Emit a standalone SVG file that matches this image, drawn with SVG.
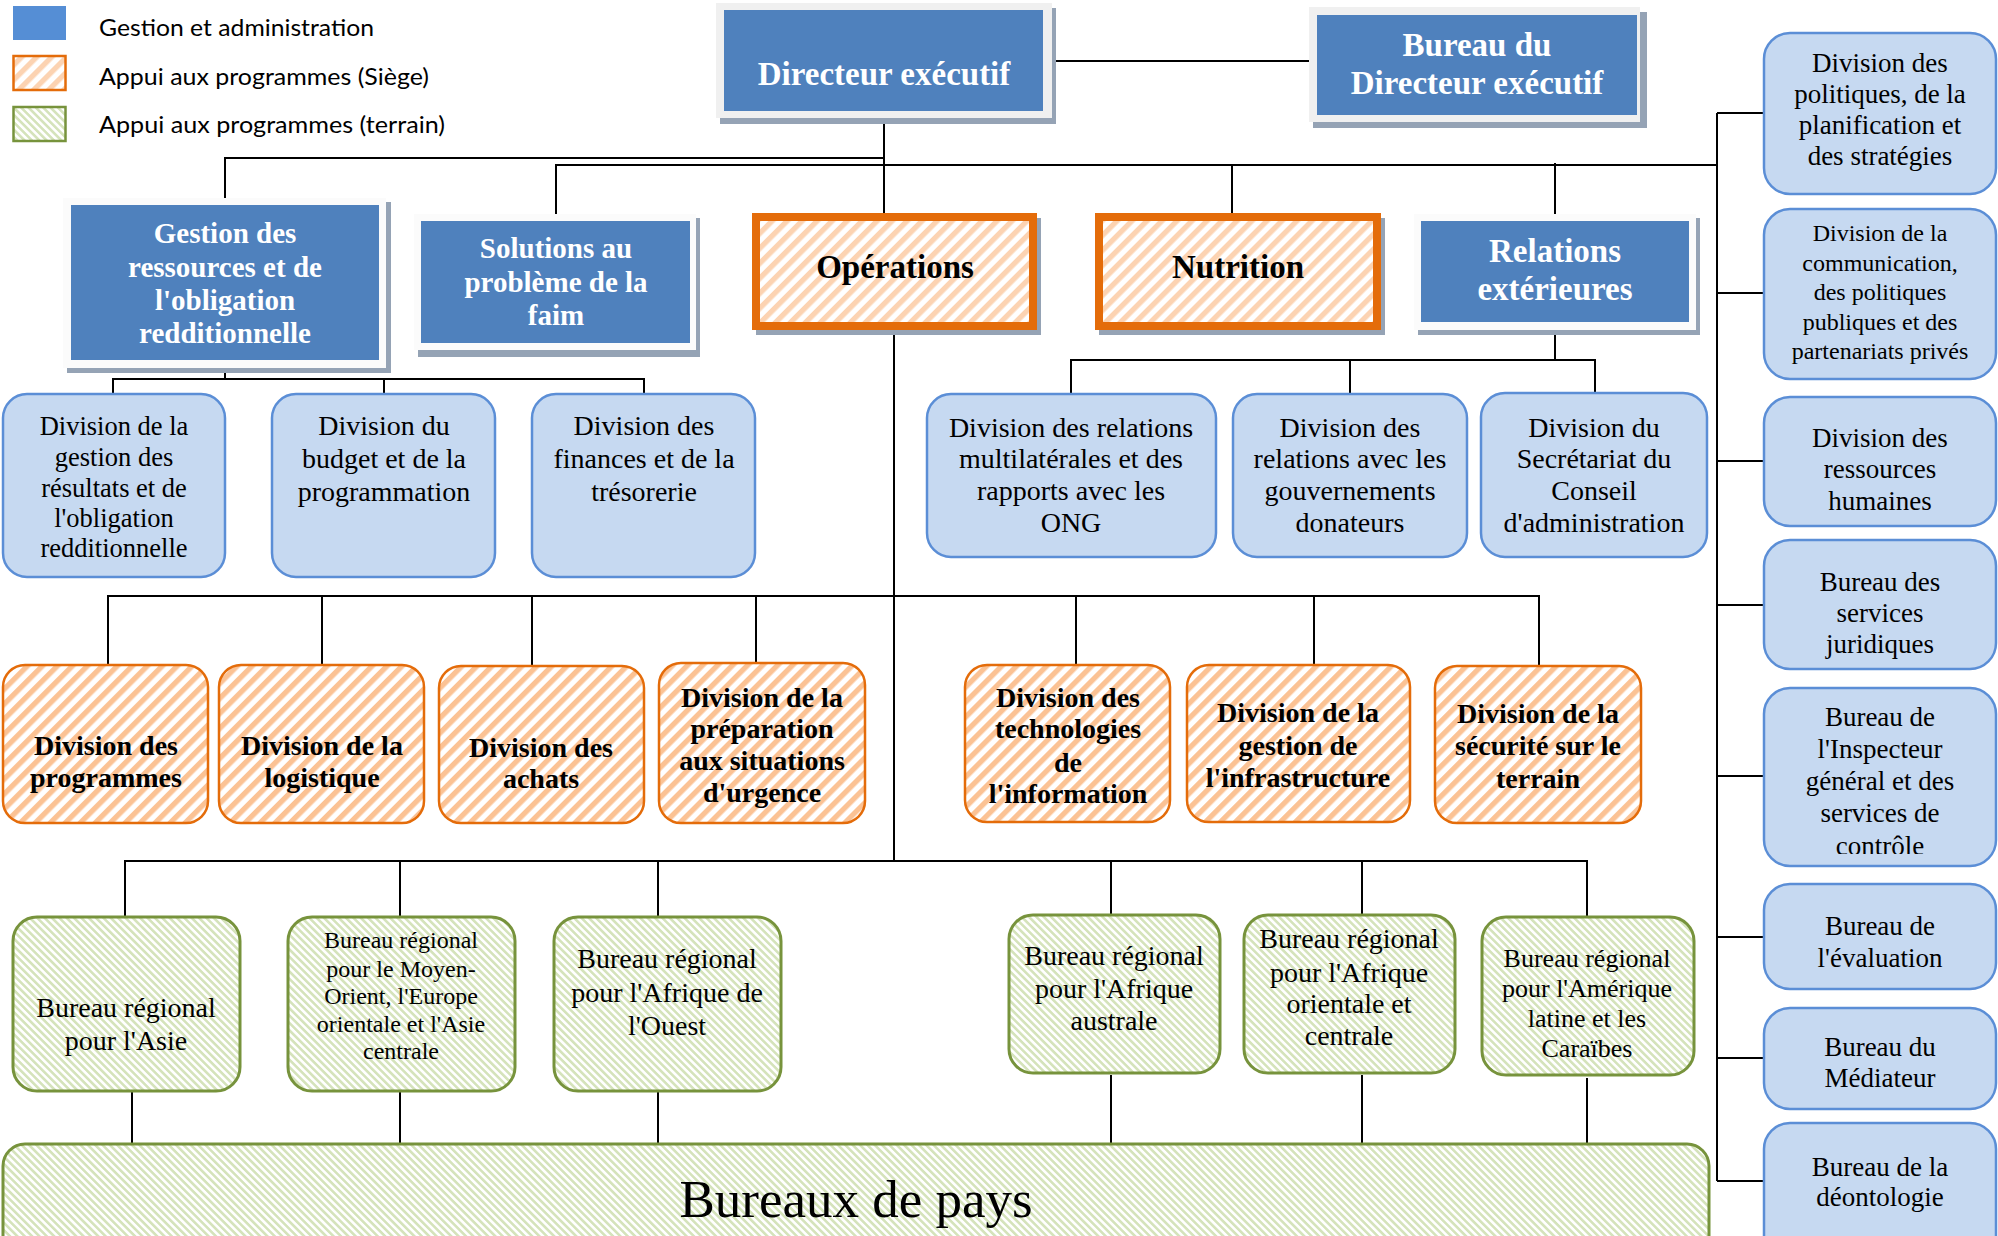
<svg xmlns="http://www.w3.org/2000/svg" width="1998" height="1236" viewBox="0 0 1998 1236">
<defs>
  <pattern id="orangeL" patternUnits="userSpaceOnUse" width="10.6" height="10.6" patternTransform="rotate(45)">
    <rect width="10.6" height="10.6" fill="#ffffff"/>
    <rect width="5.3" height="10.6" fill="#fcd3b2"/>
  </pattern>
  <pattern id="orange" patternUnits="userSpaceOnUse" width="10.6" height="10.6" patternTransform="rotate(45)">
    <rect width="10.6" height="10.6" fill="#ffffff"/>
    <rect width="5.3" height="10.6" fill="#fbc294"/>
  </pattern>
  <pattern id="green" patternUnits="userSpaceOnUse" width="5.2" height="5.2" patternTransform="rotate(-45)">
    <rect width="5.2" height="5.2" fill="#ffffff"/>
    <rect width="2.6" height="5.2" fill="#d5e3bb"/>
  </pattern>
  <clipPath id="clip5"><rect x="1764" y="688" width="234" height="166"/></clipPath>
</defs>
<style>
  .conn{stroke:#000;stroke-width:2;fill:none}
  .shadow{fill:#95a3b5}
  .frame{fill:#f0f0f0}
  .frameW{fill:#fbfbfb}
  .blue{fill:#4f81bd}
  .bbox{fill:#c6d9f1;stroke:#5b8ed6;stroke-width:2.5}
  .obox{fill:url(#orange);stroke:#e46c0a;stroke-width:2.5}
  .ohdr{fill:url(#orangeL);stroke:#e46c0a;stroke-width:8}
  .gbox{fill:url(#green);stroke:#77933c;stroke-width:3}
  .th{font-family:"Liberation Serif","Times New Roman",serif;font-weight:bold;fill:#fff;text-anchor:middle}
  .tb{font-family:"Liberation Serif","Times New Roman",serif;font-weight:bold;fill:#000;text-anchor:middle}
  .t{font-family:"Liberation Serif","Times New Roman",serif;fill:#000;text-anchor:middle}
  .leg{font-family:Lato,"Liberation Sans",sans-serif;font-size:24px;fill:#000}
</style>

<g id="legend">
  <rect x="13" y="6" width="53" height="34" fill="#558ed5"/>
  <rect x="13.5" y="56" width="52" height="34" fill="url(#orangeL)" stroke="#e46c0a" stroke-width="2.5"/>
  <rect x="13.5" y="107" width="52" height="34" fill="url(#green)" stroke="#77933c" stroke-width="2.5"/>
  <text class="leg" x="99" y="36" textLength="275" lengthAdjust="spacingAndGlyphs">Gestion et administration</text>
  <text class="leg" x="99" y="85" textLength="330" lengthAdjust="spacingAndGlyphs">Appui aux programmes (Siège)</text>
  <text class="leg" x="99" y="133" textLength="346" lengthAdjust="spacingAndGlyphs">Appui aux programmes (terrain)</text>
</g>

<g id="connectors">
  <path class="conn" d="M1052,61 H1309"/>
  <path class="conn" d="M884,116 V217"/>
  <path class="conn" d="M225,198 V158 H884"/>
  <path class="conn" d="M556,216 V165 H1717"/>
  <path class="conn" d="M1232,165 V213"/>
  <path class="conn" d="M1555,163 V214"/>
  <path class="conn" d="M1717,113 V1181"/>
  <path class="conn" d="M1717,113 H1764 M1717,293 H1764 M1717,461 H1764 M1717,605 H1764 M1717,776 H1764 M1717,937 H1764 M1717,1058 H1764 M1717,1181 H1764"/>
  <path class="conn" d="M225,368 V379 M113,394 V379 H644 V394 M384,379 V394"/>
  <path class="conn" d="M1555,330 V360 M1071,394 V360 H1595 V394 M1350,360 V394"/>
  <path class="conn" d="M894,330 V861"/>
  <path class="conn" d="M108,665 V596 H1539 V665 M322,596 V665 M532,596 V665 M756,596 V663 M1076,596 V665 M1314,596 V665"/>
  <path class="conn" d="M125,917 V861 H1587 V917 M400,861 V916 M658,861 V916 M1111,861 V915 M1362,861 V915"/>
  <path class="conn" d="M132,1075 V1144 M400,1075 V1144 M658,1073 V1144 M1111,1075 V1144 M1362,1075 V1144 M1587,1078 V1144"/>
</g>

<g id="n-directeur">
  <rect class="shadow" x="720" y="8" width="336" height="116"/>
  <rect class="frame" x="716" y="3" width="336" height="115"/>
  <rect class="blue" x="724" y="10" width="319" height="101"/>
  <text class="th" x="884" y="85" font-size="33">Directeur exécutif</text>
</g>
<g id="n-bureau-de">
  <rect class="shadow" x="1313" y="12" width="334" height="116"/>
  <rect class="frame" x="1309" y="7" width="331" height="115"/>
  <rect class="blue" x="1317" y="15" width="320" height="100"/>
  <text class="th" x="1477" y="56" font-size="33">Bureau du</text>
  <text class="th" x="1477" y="94" font-size="33">Directeur exécutif</text>
</g>
<g id="n-gestion-ressources">
  <rect class="shadow" x="67" y="202" width="324" height="171"/>
  <rect class="frameW" x="63" y="198" width="323" height="170"/>
  <rect class="blue" x="71" y="205" width="308" height="155"/>
  <text class="th" x="225" font-size="29"><tspan x="225" y="243">Gestion des</tspan><tspan x="225" y="277">ressources et de</tspan><tspan x="225" y="310">l'obligation</tspan><tspan x="225" y="343">redditionnelle</tspan></text>
</g>
<g id="n-solutions">
  <rect class="shadow" x="418" y="218" width="282" height="139"/>
  <rect class="frameW" x="414" y="214" width="282" height="136"/>
  <rect class="blue" x="421" y="221" width="269" height="122"/>
  <text class="th" font-size="29"><tspan x="556" y="258">Solutions au</tspan><tspan x="556" y="292">problème de la</tspan><tspan x="556" y="325">faim</tspan></text>
</g>
<g id="n-operations">
  <rect class="shadow" x="756" y="218" width="285" height="117"/>
  <rect class="ohdr" x="756" y="217" width="277" height="109"/>
  <text class="tb" x="895" y="278" font-size="33">Opérations</text>
</g>
<g id="n-nutrition">
  <rect class="shadow" x="1099" y="218" width="286" height="117"/>
  <rect class="ohdr" x="1099" y="217" width="278" height="109"/>
  <text class="tb" x="1238" y="278" font-size="33">Nutrition</text>
</g>
<g id="n-relations">
  <rect class="shadow" x="1418" y="218" width="282" height="117"/>
  <rect class="frameW" x="1414" y="214" width="282" height="116"/>
  <rect class="blue" x="1421" y="221" width="268" height="101"/>
  <text class="th" font-size="33"><tspan x="1555" y="262">Relations</tspan><tspan x="1555" y="300">extérieures</tspan></text>
</g>

<g id="n-div-resultats">
  <rect class="bbox" x="3" y="394" width="222" height="183" rx="24"/>
  <text class="t" font-size="26.5"><tspan x="114" y="435">Division de la</tspan><tspan x="114" y="466">gestion des</tspan><tspan x="114" y="497">résultats et de</tspan><tspan x="114" y="527">l'obligation</tspan><tspan x="114" y="557">redditionnelle</tspan></text>
</g>
<g id="n-div-budget">
  <rect class="bbox" x="272" y="394" width="223" height="183" rx="24"/>
  <text class="t" font-size="28"><tspan x="384" y="435">Division du</tspan><tspan x="384" y="468">budget et de la</tspan><tspan x="384" y="501">programmation</tspan></text>
</g>
<g id="n-div-finances">
  <rect class="bbox" x="532" y="394" width="223" height="183" rx="24"/>
  <text class="t" font-size="28"><tspan x="644" y="435">Division des</tspan><tspan x="644" y="468">finances et de la</tspan><tspan x="644" y="501">trésorerie</tspan></text>
</g>
<g id="n-div-multilat">
  <rect class="bbox" x="927" y="394" width="289" height="163" rx="24"/>
  <text class="t" font-size="28"><tspan x="1071" y="437">Division des relations</tspan><tspan x="1071" y="468">multilatérales et des</tspan><tspan x="1071" y="500">rapports avec les</tspan><tspan x="1071" y="532">ONG</tspan></text>
</g>
<g id="n-div-donateurs">
  <rect class="bbox" x="1233" y="394" width="234" height="163" rx="24"/>
  <text class="t" font-size="28"><tspan x="1350" y="437">Division des</tspan><tspan x="1350" y="468">relations avec les</tspan><tspan x="1350" y="500">gouvernements</tspan><tspan x="1350" y="532">donateurs</tspan></text>
</g>
<g id="n-div-secretariat">
  <rect class="bbox" x="1481" y="393" width="226" height="164" rx="24"/>
  <text class="t" font-size="28"><tspan x="1594" y="437">Division du</tspan><tspan x="1594" y="468">Secrétariat du</tspan><tspan x="1594" y="500">Conseil</tspan><tspan x="1594" y="532">d'administration</tspan></text>
</g>

<g id="n-div-programmes">
  <rect class="obox" x="3" y="665" width="205" height="158" rx="22"/>
  <text class="tb" font-size="28"><tspan x="106" y="755">Division des</tspan><tspan x="106" y="787">programmes</tspan></text>
</g>
<g id="n-div-logistique">
  <rect class="obox" x="219" y="665" width="205" height="158" rx="22"/>
  <text class="tb" font-size="28"><tspan x="322" y="755">Division de la</tspan><tspan x="322" y="787">logistique</tspan></text>
</g>
<g id="n-div-achats">
  <rect class="obox" x="439" y="666" width="205" height="157" rx="22"/>
  <text class="tb" font-size="28"><tspan x="541" y="757">Division des</tspan><tspan x="541" y="788">achats</tspan></text>
</g>
<g id="n-div-urgence">
  <rect class="obox" x="659" y="663" width="206" height="160" rx="22"/>
  <text class="tb" font-size="28"><tspan x="762" y="707">Division de la</tspan><tspan x="762" y="738">préparation</tspan><tspan x="762" y="770">aux situations</tspan><tspan x="762" y="802">d'urgence</tspan></text>
</g>
<g id="n-div-ti">
  <rect class="obox" x="965" y="665" width="205" height="157" rx="22"/>
  <text class="tb" font-size="28"><tspan x="1068" y="707">Division des</tspan><tspan x="1068" y="738">technologies</tspan><tspan x="1068" y="772">de</tspan><tspan x="1068" y="803">l'information</tspan></text>
</g>
<g id="n-div-infra">
  <rect class="obox" x="1187" y="665" width="223" height="157" rx="22"/>
  <text class="tb" font-size="28"><tspan x="1298" y="722">Division de la</tspan><tspan x="1298" y="755">gestion de</tspan><tspan x="1298" y="787">l'infrastructure</tspan></text>
</g>
<g id="n-div-securite">
  <rect class="obox" x="1435" y="666" width="206" height="157" rx="22"/>
  <text class="tb" font-size="28"><tspan x="1538" y="723">Division de la</tspan><tspan x="1538" y="755">sécurité sur le</tspan><tspan x="1538" y="788">terrain</tspan></text>
</g>

<g id="n-br-asie">
  <rect class="gbox" x="13" y="917" width="227" height="174" rx="24"/>
  <text class="t" font-size="28"><tspan x="126" y="1017">Bureau régional</tspan><tspan x="126" y="1050">pour l'Asie</tspan></text>
</g>
<g id="n-br-moyen-orient">
  <rect class="gbox" x="288" y="917" width="227" height="174" rx="24"/>
  <text class="t" font-size="24"><tspan x="401" y="948">Bureau régional</tspan><tspan x="401" y="977">pour le Moyen-</tspan><tspan x="401" y="1004">Orient, l'Europe</tspan><tspan x="401" y="1032">orientale et l'Asie</tspan><tspan x="401" y="1059">centrale</tspan></text>
</g>
<g id="n-br-afrique-ouest">
  <rect class="gbox" x="554" y="917" width="227" height="174" rx="24"/>
  <text class="t" font-size="28"><tspan x="667" y="968">Bureau régional</tspan><tspan x="667" y="1002">pour l'Afrique de</tspan><tspan x="667" y="1035">l'Ouest</tspan></text>
</g>
<g id="n-br-afrique-australe">
  <rect class="gbox" x="1009" y="915" width="211" height="158" rx="24"/>
  <text class="t" font-size="28"><tspan x="1114" y="965">Bureau régional</tspan><tspan x="1114" y="998">pour l'Afrique</tspan><tspan x="1114" y="1030">australe</tspan></text>
</g>
<g id="n-br-afrique-orientale">
  <rect class="gbox" x="1244" y="915" width="211" height="158" rx="24"/>
  <text class="t" font-size="28"><tspan x="1349" y="948">Bureau régional</tspan><tspan x="1349" y="982">pour l'Afrique</tspan><tspan x="1349" y="1013">orientale et</tspan><tspan x="1349" y="1045">centrale</tspan></text>
</g>
<g id="n-br-amerique">
  <rect class="gbox" x="1482" y="917" width="212" height="158" rx="24"/>
  <text class="t" font-size="26"><tspan x="1587" y="967">Bureau régional</tspan><tspan x="1587" y="997">pour l'Amérique</tspan><tspan x="1587" y="1027">latine et les</tspan><tspan x="1587" y="1057">Caraïbes</tspan></text>
</g>
<g id="n-bureaux-pays">
  <rect class="gbox" x="3" y="1144" width="1706" height="130" rx="22"/>
  <text class="t" x="856" y="1217" font-size="53">Bureaux de pays</text>
</g>

<g id="n-politiques">
  <rect class="bbox" x="1764" y="33" width="232" height="161" rx="26"/>
  <text class="t" font-size="27"><tspan x="1880" y="72">Division des</tspan><tspan x="1880" y="103">politiques, de la</tspan><tspan x="1880" y="134">planification et</tspan><tspan x="1880" y="165">des stratégies</tspan></text>
</g>
<g id="n-communication">
  <rect class="bbox" x="1764" y="209" width="232" height="170" rx="26"/>
  <text class="t" font-size="24"><tspan x="1880" y="241">Division de la</tspan><tspan x="1880" y="271">communication,</tspan><tspan x="1880" y="300">des politiques</tspan><tspan x="1880" y="330">publiques et des</tspan><tspan x="1880" y="359">partenariats privés</tspan></text>
</g>
<g id="n-rh">
  <rect class="bbox" x="1764" y="397" width="232" height="129" rx="26"/>
  <text class="t" font-size="27"><tspan x="1880" y="447">Division des</tspan><tspan x="1880" y="478">ressources</tspan><tspan x="1880" y="510">humaines</tspan></text>
</g>
<g id="n-juridiques">
  <rect class="bbox" x="1764" y="540" width="232" height="129" rx="26"/>
  <text class="t" font-size="27"><tspan x="1880" y="591">Bureau des</tspan><tspan x="1880" y="622">services</tspan><tspan x="1880" y="653">juridiques</tspan></text>
</g>
<g id="n-inspecteur">
  <rect class="bbox" x="1764" y="688" width="232" height="178" rx="26"/>
  <text class="t" font-size="27" clip-path="url(#clip5)"><tspan x="1880" y="726">Bureau de</tspan><tspan x="1880" y="758">l'Inspecteur</tspan><tspan x="1880" y="790">général et des</tspan><tspan x="1880" y="822">services de</tspan><tspan x="1880" y="855">contrôle</tspan></text>
</g>
<g id="n-evaluation">
  <rect class="bbox" x="1764" y="884" width="232" height="105" rx="26"/>
  <text class="t" font-size="27"><tspan x="1880" y="935">Bureau de</tspan><tspan x="1880" y="967">l'évaluation</tspan></text>
</g>
<g id="n-mediateur">
  <rect class="bbox" x="1764" y="1008" width="232" height="101" rx="26"/>
  <text class="t" font-size="27"><tspan x="1880" y="1056">Bureau du</tspan><tspan x="1880" y="1087">Médiateur</tspan></text>
</g>
<g id="n-deontologie">
  <rect class="bbox" x="1764" y="1123" width="232" height="140" rx="26"/>
  <text class="t" font-size="27"><tspan x="1880" y="1176">Bureau de la</tspan><tspan x="1880" y="1206">déontologie</tspan></text>
</g>
</svg>
